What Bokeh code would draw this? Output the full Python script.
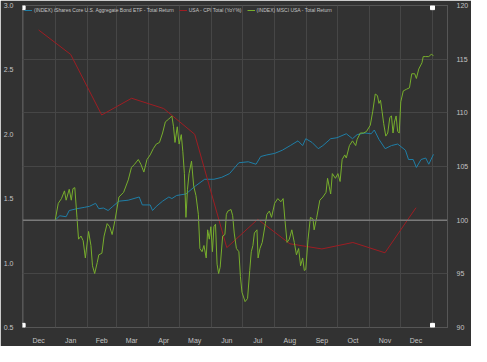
from bokeh.plotting import figure
from bokeh.models import (Range1d, LinearAxis, FixedTicker, PrintfTickFormatter,
                          Span, Legend, LegendItem)
from bokeh.embed import file_html
from bokeh.resources import INLINE

# ---- data (x = day offset from 1 Jan; December of prior year is negative) ----
month_starts = [-31, 0, 31, 59, 90, 120, 151, 181, 212, 243, 273, 304, 334, 365]
month_mids = [-16, 15, 45, 74, 105, 135, 166, 196, 227, 258, 288, 319, 349]
month_labels = ["Dec", "Jan", "Feb", "Mar", "Apr", "May", "Jun",
                "Jul", "Aug", "Sep", "Oct", "Nov", "Dec"]

cpi_days = month_mids
cpi_values = [2.81, 2.62, 2.15, 2.28, 2.20, 2.00, 1.12, 1.34, 1.15, 1.11, 1.16, 1.08, 1.43]

bond_days = [0, 4.5, 10.6, 13.6, 21.1, 28.6, 33.2, 39.1, 42.2, 46.7, 51.2, 55.7, 61.7,
             70.7, 81.3, 84.3, 91.9, 94.2, 97.8, 103.9, 110, 112.9, 117.5, 126.5, 135.5,
             144.6, 153.6, 161.1, 168.7, 177.7, 186.8, 194.3, 198.8, 204.8, 212.3, 219.8,
             227.4, 234.9, 239.4, 242.4, 248.5, 254.5, 259, 266.5, 272.6, 281.6, 287.6,
             292.1, 299.7, 305.7, 308.7, 313.2, 319.2, 325.3, 331.3, 338.8, 341.8, 346.3,
             349.4, 353.9, 358.4, 361.4, 365.9]
bond_values = [100.0, 100.41, 100.32, 100.90, 101.07, 101.20, 101.29, 101.57, 101.07,
               101.13, 100.90, 101.28, 101.77, 101.86, 102.16, 101.42, 101.42, 100.90,
               101.28, 101.77, 102.16, 102.01, 102.30, 102.44, 103.17, 103.81, 103.81,
               103.99, 104.34, 105.35, 105.44, 105.21, 105.93, 106.08, 106.22, 106.52,
               106.95, 107.39, 106.95, 107.59, 107.24, 106.66, 106.95, 107.59, 107.68,
               108.05, 107.59, 107.97, 108.12, 108.05, 108.40, 107.53, 106.66, 106.95,
               107.09, 106.52, 105.65, 105.65, 104.91, 105.65, 105.79, 105.21, 106.13]

msci_days = [0, 3.0, 6.1, 9.0, 10.6, 13.6, 15.6, 17.2, 19.0, 21.1, 22.6, 25.0, 27.1, 29.2,
             32.3, 34.6, 36.1, 38.2, 40.7, 42.2, 45.2, 47.3, 50.3, 52.7, 55.1, 57.8, 61.7,
             66.2, 70.7, 73.8, 76.8, 80.4, 82.9, 85.8, 88.8, 91.9, 94.9, 97.8, 100.9, 103.9,
             106.6, 109.9, 112.9, 114.5, 115.9, 118.1, 119.9, 122.0, 123.5, 125.0, 126.5,
             128.0, 129.5, 131.9, 134.0, 136.2, 138.5, 140.0, 142.1, 143.9, 146.1, 147.5,
             149.1, 150.6, 152.1, 153.6, 155.1, 156.6, 158.1, 159.6, 162.0, 164.2, 165.6,
             167.1, 170.1, 171.7, 173.2, 175.3, 177.7, 179.2, 180.7, 183.7, 186.1, 188.2,
             189.7, 191.3, 192.7, 195.2, 196.3, 198.1, 200.3, 203.3, 204.8, 207.2, 209.3,
             212.3, 215.3, 218.4, 220.5, 222.3, 224.3, 226.5, 228.9, 231.3, 233.4, 235.5,
             237.4, 239.4, 241.0, 242.4, 244.6, 246.9, 249.4, 250.5, 253.0, 256.0, 259.0,
             262.0, 263.5, 265.0, 266.5, 268.1, 271.1, 273.5, 275.6, 277.6, 280.1, 281.6,
             284.6, 287.6, 290.7, 292.1, 295.2, 298.2, 301.1, 304.8, 307.2, 309.6, 311.7,
             313.2, 314.7, 316.2, 317.8, 319.8, 321.7, 323.7, 325.3, 326.8, 328.2, 329.8,
             331.3, 332.8, 334.3, 336.7, 339.7, 342.7, 344.9, 347.8, 349.4, 351.7, 354.8,
             356.0, 358.4, 361.4, 363.8, 365.9]
msci_values = [100.0, 101.57, 102.01, 102.73, 101.86, 102.88, 101.86, 102.94, 103.03,
               100.26, 98.23, 98.52, 98.08, 96.48, 98.95, 97.64, 95.75, 95.03, 96.05,
               96.77, 96.92, 98.52, 99.68, 99.39, 98.66, 99.97, 102.16, 102.59, 103.75,
               104.91, 105.21, 105.65, 105.21, 104.48, 105.65, 106.08, 106.66, 107.09,
               107.24, 108.12, 109.16, 109.42, 109.71, 108.70, 107.24, 108.70, 107.09,
               107.97, 106.37, 104.34, 100.26, 102.88, 104.34, 105.50, 103.17, 102.29,
               100.55, 97.36, 97.06, 97.64, 96.48, 99.10, 98.23, 99.39, 97.06, 99.39,
               99.62, 95.90, 95.03, 95.61, 98.52, 98.66, 100.55, 100.85, 100.99, 100.41,
               98.80, 97.36, 97.06, 94.74, 93.28, 92.41, 92.70, 95.31, 97.06, 97.64,
               98.80, 99.10, 96.48, 97.36, 97.93, 99.68, 100.55, 100.85, 100.26, 101.57,
               102.01, 101.72, 102.01, 99.97, 97.93, 98.23, 99.10, 97.93, 96.77, 97.36,
               95.75, 96.48, 95.31, 95.40, 98.23, 100.26, 100.11, 99.10, 100.26, 101.86,
               102.16, 102.59, 103.90, 103.17, 102.44, 104.34, 103.90, 104.34, 103.60,
               105.65, 106.08, 105.79, 106.95, 107.39, 106.95, 107.53, 108.12, 108.12,
               108.26, 108.84, 110.15, 111.75, 111.61, 110.88, 111.17, 110.15, 108.99,
               107.83, 108.12, 109.57, 109.71, 108.12, 109.14, 109.71, 108.26, 108.12,
               111.02, 112.04, 112.19, 112.33, 113.64, 113.64, 113.20, 114.08, 114.66,
               115.24, 115.24, 115.24, 115.45, 115.33]

cpi_ticks = [0.5, 1.0, 1.5, 2.0, 2.5, 3.0]
index_ticks = [90, 95, 100, 105, 110, 115, 120]
handle_x = [-31, -31, 365, 365]
handle_y = [90.2, 119.8, 119.8, 90.2]

names = ["(INDEX) iShares Core U.S. Aggregate Bond ETF - Total Return",
         "USA - CPI Total (YoY%)",
         "(INDEX) MSCI USA - Total Return"]

# ---- styling ----
BG = "#323232"
GRID = "#464646"
TXT = "#c4c4c4"
FONT = "Liberation Sans"
BLUE, RED, GREEN = "#1f7ea6", "#9e1d23", "#77ae2c"

p = figure(width=471, height=346, output_backend="svg", toolbar_location=None,
           x_range=Range1d(-31.6, 379.5), y_range=Range1d(90, 120),
           y_axis_location="right",
           background_fill_color=BG, border_fill_color=BG,
           min_border_left=14, min_border_right=16, min_border_top=5,
           min_border_bottom=12)
p.extra_y_ranges = {"cpi": Range1d(0.5, 3.0)}
p.outline_line_color = "#565656"

right = p.right[0]
right.ticker = FixedTicker(ticks=index_ticks)

left = LinearAxis(y_range_name="cpi", ticker=FixedTicker(ticks=cpi_ticks),
                  formatter=PrintfTickFormatter(format="%.1f"))
p.add_layout(left, "left")

bottom = p.below[0]
bottom.ticker = FixedTicker(ticks=month_mids)
bottom.major_label_overrides = {m: lab for m, lab in zip(month_mids, month_labels)}

for ax in [left, right, bottom]:
    ax.axis_line_color = None
    ax.major_tick_line_color = None
    ax.minor_tick_line_color = None
    ax.major_label_text_color = TXT
    ax.major_label_text_font = FONT
    ax.major_label_text_font_size = "7px"
    ax.major_label_standoff = 3

p.xgrid.ticker = FixedTicker(ticks=month_starts)
p.xgrid.grid_line_color = GRID
p.ygrid.ticker = FixedTicker(ticks=index_ticks)
p.ygrid.grid_line_color = GRID

p.add_layout(Span(location=100, dimension="width", line_color="#7a7a7a", line_width=1.5))

r_bond = p.line(bond_days, bond_values, line_color=BLUE, line_width=1.0)
r_cpi = p.line(cpi_days, cpi_values, y_range_name="cpi", line_color=RED, line_width=1.0)
r_msci = p.line(msci_days, msci_values, line_color=GREEN, line_width=1.0)

p.scatter(handle_x, handle_y, marker="square", size=4, fill_color="white",
          line_color="white")

legend = Legend(items=[LegendItem(label=names[0], renderers=[r_bond]),
                       LegendItem(label=names[1], renderers=[r_cpi]),
                       LegendItem(label=names[2], renderers=[r_msci])],
                location="top_left", orientation="horizontal",
                background_fill_alpha=0, border_line_alpha=0,
                label_text_color=TXT, label_text_font=FONT,
                label_text_font_size="5px", glyph_width=8, glyph_height=6,
                label_height=6, label_standoff=2, spacing=5, padding=1, margin=1)
p.add_layout(legend)

open("out.html", "w").write(file_html(p, INLINE))
